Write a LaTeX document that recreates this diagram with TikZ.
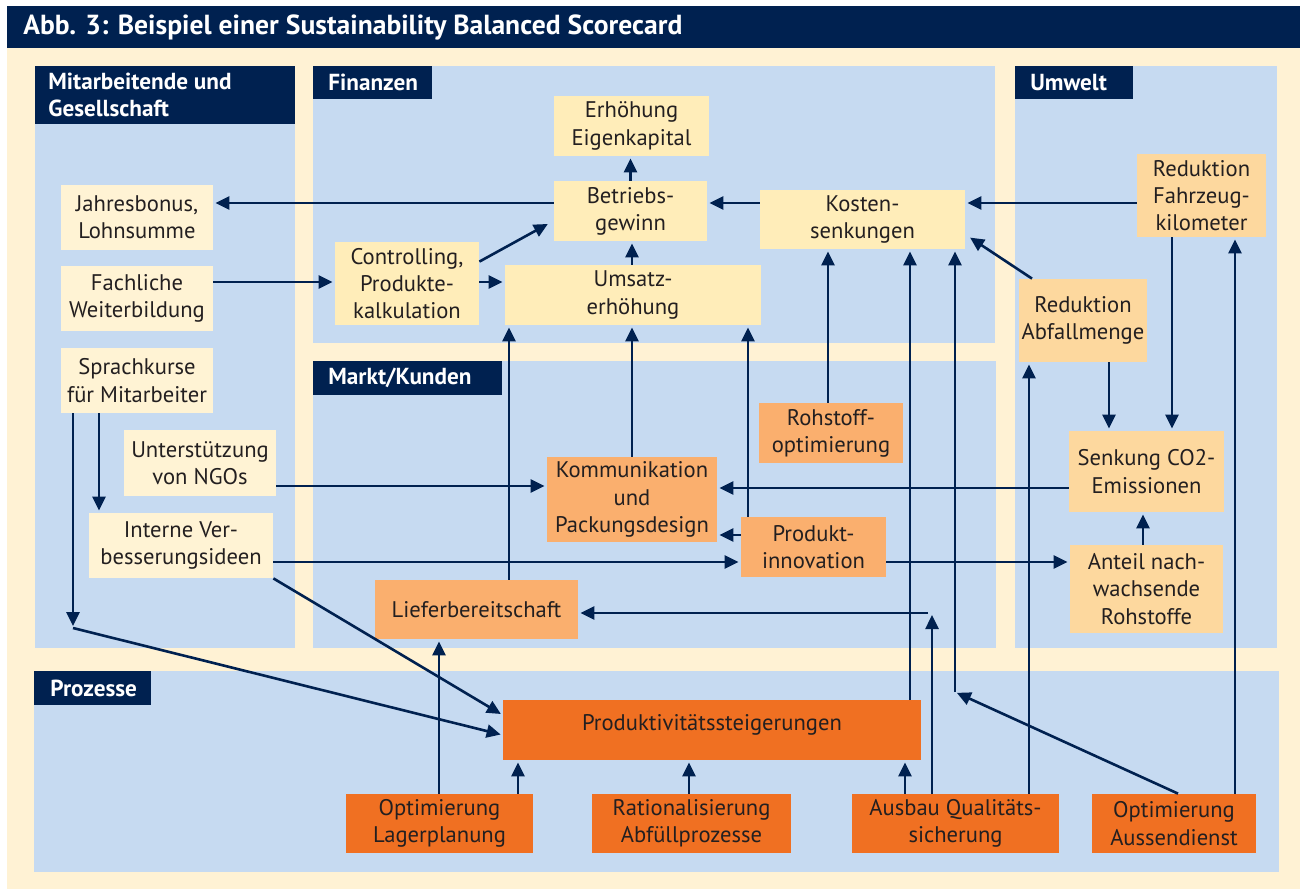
\documentclass[tikz,border=0pt]{standalone}
\usepackage{fontspec}
\setmainfont{PT Sans}
\usetikzlibrary{arrows.meta,calc}
\definecolor{navy}{RGB}{0,33,80}
\definecolor{creamc}{RGB}{255,242,212}
\definecolor{paneblue}{RGB}{198,218,241}
\definecolor{finc}{RGB}{255,237,185}
\definecolor{mitc}{RGB}{255,243,212}
\definecolor{umwc}{RGB}{253,216,158}
\definecolor{mktc}{RGB}{250,175,110}
\definecolor{proc}{RGB}{240,112,34}
\definecolor{txt}{RGB}{35,31,32}
\begin{document}
\begin{tikzpicture}[x=0.5pt,y=-0.5pt,
  corners/.style n args={4}{minimum width={(#3-#1)*0.5pt}, minimum height={(#4-#2)*0.5pt}, at={({(#1+#3)/2},{(#2+#4)/2})}},
  box/.style={inner sep=0pt, align=center, text=txt, font=\fontsize{11.3}{13.6}\selectfont},
  fin/.style={box, fill=finc},
  mit/.style={box, fill=mitc},
  umw/.style={box, fill=umwc},
  mkt/.style={box, fill=mktc},
  pro/.style={box, fill=proc},
  panel/.style={fill=paneblue},
  hdr/.style={fill=navy},
  hdrtext/.style={anchor=west, inner sep=0pt, align=left, text=white, font=\bfseries\fontsize{11.6}{13.6}\selectfont},
  arr/.style={draw=navy, line width=1.3pt, -{Triangle[length=7pt,width=6.5pt]}, shorten >=1pt}
]
\useasboundingbox (0,0) rectangle (1300,889);
% background and title
\fill[creamc] (7,48) rectangle (1300,889);
\fill[navy] (7,6) rectangle (1300,48);
\node[anchor=west, inner sep=0pt, text=white, font=\bfseries\fontsize{13.8}{15}\selectfont] (title) at (23,27) {Abb. 3: Beispiel einer Sustainability Balanced Scorecard};
% panels
\fill[panel] (35,66) rectangle (295,648);
\fill[panel] (313,66) rectangle (995,343);
\fill[panel] (313,361) rectangle (996,648);
\fill[panel] (1015,66) rectangle (1277,648);
\fill[panel] (34,671) rectangle (1279,872);
% headers
\fill[hdr] (35,66) rectangle (295,124);
\node[hdrtext] (hmit) at (48,95) {Mitarbeitende und\\Gesellschaft};
\fill[hdr] (313,66) rectangle (432,99);
\node[hdrtext] (hfin) at (328,82.5) {Finanzen};
\fill[hdr] (313,361) rectangle (502,395);
\node[hdrtext] (hmkt) at (328,378) {Markt/Kunden};
\fill[hdr] (1015,66) rectangle (1133,99);
\node[hdrtext] (humw) at (1030,82.5) {Umwelt};
\fill[hdr] (34,671) rectangle (151,705);
\node[hdrtext] (hpro) at (50,688) {Prozesse};
% Finanzen
\node[fin, corners={554}{96}{709}{156}] (ek) {Erhöhung\\Eigenkapital};
\node[fin, corners={554}{181}{707}{241}] (bg) {Betriebs-\\gewinn};
\node[fin, corners={335}{242}{479}{325}] (ctrl) {Controlling,\\Produkte-\\kalkulation};
\node[fin, corners={505}{265}{761}{325}] (ums) {Umsatz-\\erhöhung};
\node[fin, corners={760}{190}{965}{249}] (kos) {Kosten-\\senkungen};
% Mitarbeitende
\node[mit, corners={61}{185}{213}{250}] (jb) {Jahresbonus,\\Lohnsumme};
\node[mit, corners={61}{266}{213}{331}] (fw) {Fachliche\\Weiterbildung};
\node[mit, corners={61}{348}{213}{413}] (sk) {Sprachkurse\\für Mitarbeiter};
\node[mit, corners={124}{430}{276}{496}] (ngo) {Unterstützung\\von NGOs};
\node[mit, corners={89}{513}{273}{578}] (iv) {Interne Ver-\\besserungsideen};
% Umwelt
\node[umw, corners={1137}{154}{1266}{237}] (rf) {Reduktion\\Fahrzeug-\\kilometer};
\node[umw, corners={1019}{279}{1147}{362}] (ra) {Reduktion\\Abfallmenge};
\node[umw, corners={1069}{431}{1224}{512}] (co2) {Senkung CO2-\\Emissionen};
\node[umw, corners={1070}{545}{1223}{633}] (an) {Anteil nach-\\wachsende\\Rohstoffe};
% Markt/Kunden
\node[mkt, corners={759}{403}{903}{463}] (ro) {Rohstoff-\\optimierung};
\node[mkt, corners={547}{457}{717}{542}] (kom) {Kommunikation\\und\\Packungsdesign};
\node[mkt, corners={741}{517}{886}{577}] (pi) {Produkt-\\innovation};
\node[mkt, corners={375}{580}{578}{639}] (lb) {Lieferbereitschaft};
% Prozesse
\node[pro, corners={503}{700}{921}{760}, text depth=8pt] (pr) {Produktivitätssteigerungen};
\node[pro, corners={346}{794}{533}{853}] (ol) {Optimierung\\Lagerplanung};
\node[pro, corners={592}{794}{791}{853}] (ra2) {Rationalisierung\\Abfüllprozesse};
\node[pro, corners={852}{794}{1059}{853}] (aq) {Ausbau Qualitäts-\\sicherung};
\node[pro, corners={1092}{794}{1256}{853}] (oa) {Optimierung\\Aussendienst};
% helper coordinates
\foreach \v in {73,99,439,509,518,632,689,748,828,905,910,1029,1032,1109,1143,1172,1178,1235}
  \coordinate (X\v) at (\v,0);
\foreach \v in {203,282,486,488,535,562,715,735}
  \coordinate (Y\v) at (0,\v);
\coordinate (c955) at (955,692);
\coordinate (c932) at (932,613);
\coordinate (c73) at (73,628);
% connectors
\draw[arr] (bg.north) -- (bg.north |- ek.south);
\draw[arr] (ums.north -| X632) -- (bg.south -| X632);
\draw[arr] (bg.west |- Y203) -- (jb.east |- Y203);
\draw[arr] (kos.west |- Y203) -- (bg.east |- Y203);
\draw[arr] (rf.west |- Y203) -- (kos.east |- Y203);
\draw[arr] (ra.north -| X1032) -- ($(kos.east)+(3,17)$);
\draw[arr] (fw.east |- Y282) -- (ctrl.west |- Y282);
\draw[arr] (ctrl.east |- Y282) -- (ums.west |- Y282);
\draw[arr] ($(ctrl.north east)+(0,20)$) -- ($(bg.west)+(-4,12)$);
\draw[arr] (lb.north -| X509) -- (ums.south -| X509);
\draw[arr] (kom.north -| X632) -- (ums.south -| X632);
\draw[arr] (pi.north -| X748) -- (ums.south -| X748);
\draw[arr] (ro.north -| X828) -- (kos.south -| X828);
\draw[arr] (pr.north -| X910) -- (kos.south -| X910);
\draw[arr] (oa.north -| X1178) -- (c955);
\draw[arr] (c955) -- (kos.south -| c955);
\draw[arr] (aq.north -| X1029) -- (ra.south -| X1029);
\draw[arr] (aq.north -| c932) -- (c932);
\draw[arr] ($(c932)+(-4,0)$) -- (lb.east |- c932);
\draw[arr] (aq.north -| X905) -- (pr.south -| X905);
\draw[arr] (ra.south -| X1109) -- (co2.north -| X1109);
\draw[arr] (rf.south -| X1172) -- (co2.north -| X1172);
\draw[arr] (oa.north -| X1235) -- (rf.south -| X1235);
\draw[arr] (an.north -| X1143) -- (co2.south -| X1143);
\draw[arr] (co2.west |- Y488) -- (kom.east |- Y488);
\draw[arr] (pi.west |- Y535) -- (kom.east |- Y535);
\draw[arr] (iv.east |- Y562) -- (pi.west |- Y562);
\draw[arr] (pi.east |- Y562) -- (an.west |- Y562);
\draw[arr] (ngo.east |- Y486) -- (kom.west |- Y486);
\draw[arr] (sk.south -| X99) -- (iv.north -| X99);
\draw[arr] (sk.south -| c73) -- (c73);
\draw[arr] (c73) -- (pr.west |- Y735);
\draw[arr] (iv.south east) -- (pr.west |- Y715);
\draw[arr] (ol.north -| X439) -- (lb.south -| X439);
\draw[arr] (ol.north -| X518) -- (pr.south -| X518);
\draw[arr] (ra2.north -| X689) -- (pr.south -| X689);
\end{tikzpicture}
\end{document}
